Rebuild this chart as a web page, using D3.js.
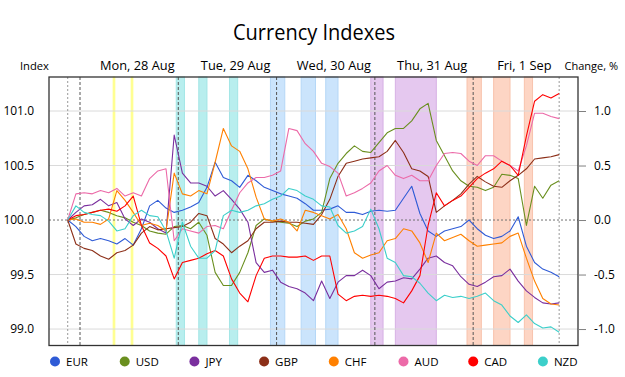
<!DOCTYPE html>
<html>
<head>
<meta charset="utf-8">
<script src="https://cdn.jsdelivr.net/npm/d3@7"></script>
<style>
body { margin: 0; background: #fff; }
text { font-family: "Open Sans", "Noto Sans", sans-serif; fill: #000; }
</style>
</head>
<body>
<div id="chart"></div>
<script>
// hours from Mon 00:00, one reading every 2 hours
var hours = [-3, -1, 1, 3, 5, 7, 9, 11, 13, 15, 17, 19, 21, 23, 25, 27, 29, 31, 33, 35,
    37, 39, 41, 43, 45, 47, 49, 51, 53, 55, 57, 59, 61, 63, 65, 67, 69, 71, 73, 75,
    77, 79, 81, 83, 85, 87, 89, 91, 93, 95, 97, 99, 101, 103, 105, 107, 109, 111, 113, 115, 117];

var eur = [100.00, 99.94, 99.85, 99.81, 99.83, 99.81, 99.78, 99.83, 99.77, 99.92,
    100.13, 100.18, 100.11, 100.07, 100.09, 100.12, 100.16, 100.30, 100.53, 100.39,
    100.36, 100.30, 100.41, 100.36, 100.30, 100.27, 100.24, 100.22, 100.20, 100.15,
    100.09, 100.09, 100.10, 100.13, 100.07, 100.07, 100.05, 100.08, 100.09, 100.08,
    100.09, 100.20, 100.31, 100.06, 99.90, 99.85, 99.90, 99.92, 99.94, 100.00,
    99.92, 99.86, 99.83, 99.85, 99.90, 100.03, 99.76, 99.61, 99.55, 99.52, 99.48];
var usd = [100.00, 100.02, 100.05, 100.07, 100.09, 100.07, 100.04, 100.02, 99.98, 99.95,
    99.90, 99.88, 99.87, 99.94, 99.95, 99.92, 99.98, 99.86, 99.52, 99.40,
    99.40, 99.52, 99.70, 99.95, 100.01, 99.99, 99.98, 99.97, 99.94, 99.99,
    100.01, 100.07, 100.38, 100.52, 100.61, 100.68, 100.63, 100.62, 100.71, 100.80,
    100.84, 100.84, 100.91, 101.02, 101.07, 100.73, 100.59, 100.45, 100.36, 100.31,
    100.30, 100.27, 100.30, 100.42, 100.41, 100.38, 99.95, 100.31, 100.20, 100.32, 100.36];
var jpy = [100.00, 100.07, 100.13, 100.14, 100.19, 100.13, 100.16, 100.01, 99.95, 100.01,
    99.98, 99.92, 99.88, 100.78, 100.43, 100.34, 100.34, 100.31, 100.22, 100.27,
    100.19, 100.10, 99.98, 99.61, 99.52, 99.54, 99.43, 99.39, 99.37, 99.33,
    99.26, 99.44, 99.28, 99.43, 99.49, 99.49, 99.54, 99.49, 99.37, 99.43,
    99.44, 99.47, 99.46, 99.55, 99.65, 99.67, 99.61, 99.58, 99.48, 99.41,
    99.39, 99.43, 99.48, 99.49, 99.55, 99.44, 99.35, 99.29, 99.24, 99.23, 99.24];
var gbp = [100.00, 99.78, 99.74, 99.72, 99.67, 99.64, 99.70, 99.72, 99.77, 99.88,
    99.94, 99.91, 99.92, 99.93, 99.94, 99.98, 100.06, 100.04, 99.83, 99.78,
    99.70, 99.76, 99.81, 99.92, 99.98, 99.98, 99.99, 99.98, 99.98, 99.97,
    99.96, 100.05, 100.19, 100.40, 100.52, 100.54, 100.56, 100.57, 100.58, 100.63,
    100.73, 100.62, 100.47, 100.45, 100.40, 100.07, 100.13, 100.18, 100.24, 100.33,
    100.40, 100.35, 100.31, 100.30, 100.36, 100.41, 100.47, 100.56, 100.57, 100.58, 100.60];
var chf = [100.00, 100.01, 99.98, 99.98, 99.96, 100.01, 100.27, 100.18, 100.07, 99.95,
    99.97, 99.95, 99.90, 100.43, 100.24, 100.22, 100.27, 100.24, 100.53, 100.84,
    100.68, 100.63, 100.47, 100.21, 100.01, 99.99, 100.01, 99.98, 99.90, 100.09,
    100.07, 100.04, 100.01, 100.05, 99.92, 99.70, 99.65, 99.68, 99.70, 99.81,
    99.83, 99.92, 99.90, 99.79, 99.61, 99.88, 99.81, 99.84, 99.87, 99.81,
    99.76, 99.77, 99.78, 99.79, 99.85, 99.88, 99.65, 99.44, 99.28, 99.23, 99.22];
var aud = [100.00, 100.24, 100.25, 100.24, 100.27, 100.25, 100.29, 100.22, 100.25, 100.22,
    100.38, 100.45, 100.47, 99.81, 99.92, 99.90, 99.88, 99.94, 99.95, 99.92,
    100.09, 100.25, 100.34, 100.39, 100.39, 100.41, 100.45, 100.84, 100.82, 100.70,
    100.63, 100.52, 100.49, 100.43, 100.22, 100.25, 100.29, 100.34, 100.45, 100.50,
    100.41, 100.38, 100.41, 100.36, 100.36, 100.50, 100.61, 100.62, 100.61, 100.54,
    100.50, 100.59, 100.59, 100.54, 100.50, 100.45, 100.68, 100.98, 100.98, 100.95, 100.93];
var cad = [100.00, 100.04, 100.05, 100.07, 100.09, 100.10, 100.08, 100.13, 100.22, 99.95,
    99.79, 99.74, 99.67, 99.46, 99.61, 99.63, 99.65, 99.69, 99.72, 99.67,
    99.46, 99.33, 99.25, 99.49, 99.65, 99.67, 99.67, 99.66, 99.66, 99.67,
    99.63, 99.67, 99.67, 99.32, 99.26, 99.30, 99.31, 99.30, 99.31, 99.30,
    99.28, 99.24, 99.35, 99.49, 99.95, 100.25, 100.13, 100.18, 100.22, 100.30,
    100.38, 100.43, 100.47, 100.54, 100.50, 100.41, 100.77, 101.09, 101.15, 101.12, 101.16];
var nzd = [100.00, 100.13, 100.07, 100.05, 100.04, 99.99, 99.90, 99.92, 100.04, 100.09,
    100.04, 100.03, 99.90, 99.65, 99.98, 99.76, 99.65, 99.65, 99.72, 100.04,
    100.09, 100.07, 100.09, 100.13, 100.15, 100.19, 100.22, 100.29, 100.27, 100.22,
    100.19, 100.13, 100.12, 99.95, 99.88, 99.90, 99.94, 100.10, 99.92, 99.65,
    99.61, 99.49, 99.48, 99.42, 99.33, 99.26, 99.31, 99.29, 99.30, 99.28,
    99.30, 99.33, 99.26, 99.22, 99.12, 99.06, 99.13, 99.05, 99.01, 99.02, 98.97];

var currencies = ["EUR", "USD", "JPY", "GBP", "CHF", "AUD", "CAD", "NZD"];
var seriesValues = [eur, usd, jpy, gbp, chf, aud, cad, nzd];
var colours = ["#2f5bd6", "#6a8f1f", "#7a2f9e", "#8c2f18", "#ff8000", "#ec6aa8", "#ff0000", "#3ccfca"];

var dayLabels = ["Mon, 28 Aug", "Tue, 29 Aug", "Wed, 30 Aug", "Thu, 31 Aug", "Fri, 1 Sep"];
var dayLabelHours = [14, 38, 62, 86, 108.5];
var dayStarts = [0, 24, 48, 72, 96];
var dataEdges = [-3, 117];

// highlighted sessions
var bandFrom = [8.1, 12.5, 23.5, 29.0, 36.5, 46.5, 54.0, 60.0, 71.0, 77.0, 94.5, 101.0, 108.5];
var bandTo = [8.5, 12.9, 25.5, 31.0, 38.5, 50.0, 57.5, 63.0, 74.0, 87.0, 98.0, 105.0, 110.5];
var bandKind = ["yellow", "yellow", "cyan", "cyan", "cyan", "blue", "blue", "blue", "purple", "purple", "salmon", "salmon", "salmon"];
var bandFill = { yellow: "#ffff8c", cyan: "#b8eeee", blue: "#cbe4fc", purple: "#e5c8ef", salmon: "#fdd5c4" };
var bandEdge = { yellow: "#ffff8c", cyan: "#a3e6e6", blue: "#b5d7f7", purple: "#d6b0e4", salmon: "#f8c3ad" };

var indexTicks = [99.0, 99.5, 100.0, 100.5, 101.0];
var changeTicks = [-1.0, -0.5, 0.0, 0.5, 1.0];

var width = 625, height = 377;
var margin = { top: 77, bottom: 31.5, left: 49, right: 47 };

var svg = d3.select('#chart')
    .append('svg')
    .attr('width', width)
    .attr('height', height);

var x_scale = d3.scaleLinear()
    .domain([-7.57, 121.6])
    .range([margin.left, width - margin.right]);

var y_scale = d3.scaleLinear()
    .domain([98.849, 101.312])
    .range([height - margin.bottom, margin.top]);

var y_change = d3.scaleLinear()
    .domain([-1.151, 1.312])
    .range([height - margin.bottom, margin.top]);

var plotW = width - margin.left - margin.right;
var plotH = height - margin.top - margin.bottom;

svg.append('defs').append('clipPath')
    .attr('id', 'plotClip')
    .append('rect')
    .attr('x', margin.left)
    .attr('y', margin.top)
    .attr('width', plotW)
    .attr('height', plotH);

// session bands
svg.append('g')
    .selectAll('rect')
    .data(bandFrom)
    .enter()
    .append('rect')
    .attr('x', (d, i) => x_scale(d))
    .attr('y', margin.top)
    .attr('width', (d, i) => x_scale(bandTo[i]) - x_scale(d))
    .attr('height', plotH)
    .attr('fill', (d, i) => bandFill[bandKind[i]])
    .attr('stroke', (d, i) => bandEdge[bandKind[i]])
    .attr('stroke-width', 1);

// grid lines
svg.append('g')
    .selectAll('line')
    .data(indexTicks)
    .enter()
    .append('line')
    .attr('x1', margin.left)
    .attr('x2', width - margin.right)
    .attr('y1', d => y_scale(d))
    .attr('y2', d => y_scale(d))
    .attr('stroke', d => d === 100 ? '#707070' : '#dadada')
    .attr('stroke-width', 1)
    .attr('stroke-dasharray', d => d === 100 ? '2,2' : null);

// day boundaries and data edges
svg.append('g')
    .selectAll('line')
    .data(dayStarts)
    .enter()
    .append('line')
    .attr('x1', d => x_scale(d))
    .attr('x2', d => x_scale(d))
    .attr('y1', margin.top)
    .attr('y2', height - margin.bottom)
    .attr('stroke', '#555')
    .attr('stroke-dasharray', '3,2');

svg.append('g')
    .selectAll('line')
    .data(dataEdges)
    .enter()
    .append('line')
    .attr('x1', d => x_scale(d))
    .attr('x2', d => x_scale(d))
    .attr('y1', margin.top)
    .attr('y2', height - margin.bottom)
    .attr('stroke', '#9a9a9a')
    .attr('stroke-dasharray', '2,2');

// series
var line = d3.line()
    .x((d, i) => x_scale(hours[i]))
    .y(d => y_scale(d));

svg.append('g')
    .attr('clip-path', 'url(#plotClip)')
    .selectAll('path')
    .data(seriesValues)
    .enter()
    .append('path')
    .attr('d', d => line(d))
    .attr('fill', 'none')
    .attr('stroke', (d, i) => colours[i])
    .attr('stroke-width', 1.1)
    .attr('stroke-linejoin', 'round');

// frame
svg.append('rect')
    .attr('x', margin.left)
    .attr('y', margin.top)
    .attr('width', plotW)
    .attr('height', plotH)
    .attr('fill', 'none')
    .attr('stroke', '#333')
    .attr('stroke-width', 1.3);

// left axis
var y_axis = d3.axisLeft(y_scale)
    .tickValues(indexTicks)
    .tickSize(0)
    .tickPadding(15)
    .tickFormat(d => d.toFixed(1));

var gLeft = svg.append('g')
    .attr('transform', 'translate(' + margin.left + ',0)')
    .call(y_axis);
gLeft.select('.domain').remove();
gLeft.selectAll('text').style('font-size', '12px').style('font-family', '"Open Sans", sans-serif').attr('fill', '#000');

// right axis
var y_axis_r = d3.axisRight(y_change)
    .tickValues(changeTicks)
    .tickSize(8)
    .tickPadding(8)
    .tickFormat(d => d.toFixed(1));

var gRight = svg.append('g')
    .attr('transform', 'translate(' + (width - margin.right) + ',0)')
    .call(y_axis_r);
gRight.select('.domain').remove();
gRight.selectAll('line').attr('stroke', '#808080');
gRight.selectAll('text').style('font-size', '12px').style('font-family', '"Open Sans", sans-serif').attr('fill', '#000');

// top labels
svg.append('text')
    .attr('x', 233)
    .attr('y', 40)
    .attr('textLength', 162)
    .attr('lengthAdjust', 'spacingAndGlyphs')
    .style('font-size', '22px')
    .text('Currency Indexes');

svg.append('text')
    .attr('x', 20)
    .attr('y', 70)
    .style('font-size', '11.2px')
    .text('Index');

svg.append('text')
    .attr('x', 618)
    .attr('y', 70)
    .attr('text-anchor', 'end')
    .style('font-size', '11px')
    .text('Change, %');

svg.append('g')
    .selectAll('text')
    .data(dayLabels)
    .enter()
    .append('text')
    .attr('x', (d, i) => x_scale(dayLabelHours[i]))
    .attr('y', 70)
    .attr('text-anchor', 'middle')
    .style('font-size', '12.8px')
    .text(d => d);

// legend
var legend = svg.append('g')
    .selectAll('g')
    .data(currencies)
    .enter()
    .append('g')
    .attr('transform', (d, i) => 'translate(' + (55 + i * 69.7) + ',361.5)');

legend.append('circle')
    .attr('r', 5)
    .attr('fill', (d, i) => colours[i]);

legend.append('text')
    .attr('x', 11)
    .attr('dy', '0.35em')
    .style('font-size', '11.5px')
    .text(d => d);
</script>
</body>
</html>
